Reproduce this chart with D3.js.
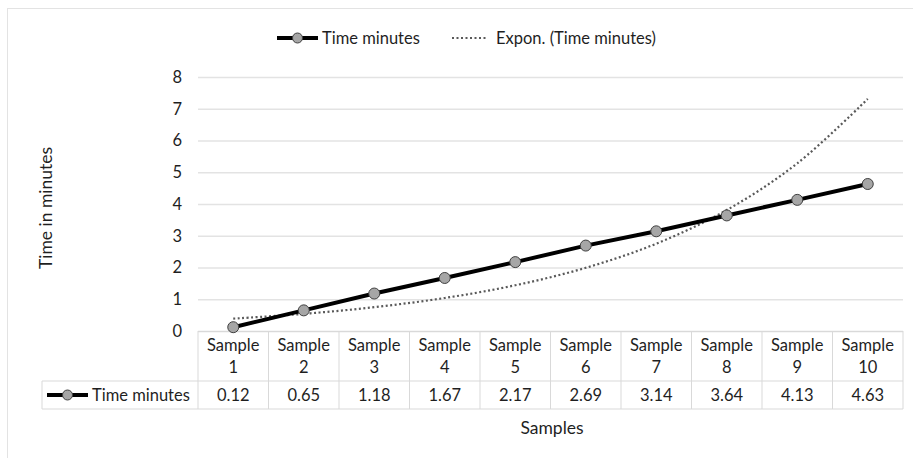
<!DOCTYPE html>
<html>
<head>
<meta charset="utf-8">
<script src="https://cdn.jsdelivr.net/npm/d3@7"></script>
<style>
  body { margin: 0; background: #fff; }
  text { font-family: Lato, "Noto Sans", sans-serif; fill: #1f1f1f; }
</style>
</head>
<body>
<div id="chart"></div>
<script>
// Time per sample - Excel style line chart with data table
const samples = ["Sample 1", "Sample 2", "Sample 3", "Sample 4", "Sample 5",
                 "Sample 6", "Sample 7", "Sample 8", "Sample 9", "Sample 10"];
const time_minutes = [0.12, 0.65, 1.18, 1.67, 2.17, 2.69, 3.14, 3.64, 4.13, 4.63];
// exponential trendline at each sample
const expon_trend = [0.39, 0.54, 0.75, 1.04, 1.44, 1.99, 2.75, 3.81, 5.28, 7.31];
const y_ticks = [0, 1, 2, 3, 4, 5, 6, 7, 8];

const w = 913;
const h = 458;
const plot = { left: 198, right: 903, top: 77, bottom: 331 };
const row_h = { head: 50, value: 28 };
const table_left = 42;
const font_size = 16.5;
const title_size = 17.5;

const svg = d3.select("#chart").append("svg")
    .attr("width", w)
    .attr("height", h);

// chart area border
svg.append("rect")
    .attr("x", 7.5).attr("y", 8.5)
    .attr("width", w + 10).attr("height", h + 10)
    .attr("fill", "none")
    .attr("stroke", "#e3e3e3");

const x = d3.scaleBand().domain(samples).range([plot.left, plot.right]);
const y = d3.scaleLinear().domain([0, 8]).range([plot.bottom, plot.top]);

// gridlines + tick labels
const y_axis = svg.append("g")
    .attr("transform", `translate(${plot.left},0)`)
    .call(d3.axisLeft(y).tickValues(y_ticks).tickSize(-(plot.right - plot.left)).tickPadding(16));
y_axis.select(".domain").remove();
y_axis.selectAll(".tick line")
    .attr("stroke", d => d === 0 ? "#d9d9d9" : "#e3e3e3")
    .attr("stroke-width", 1.3);
y_axis.selectAll(".tick text")
    .style("font-family", "Lato, 'Noto Sans', sans-serif")
    .style("font-size", font_size + "px")
    .attr("fill", "#333");

// data table
const table = svg.append("g");
const head_bottom = plot.bottom + row_h.head;
const value_bottom = head_bottom + row_h.value;
const grid_color = "#d9d9d9";

table.append("line")
    .attr("x1", table_left).attr("x2", plot.right)
    .attr("y1", head_bottom).attr("y2", head_bottom)
    .attr("stroke", grid_color);
table.append("line")
    .attr("x1", table_left).attr("x2", plot.right)
    .attr("y1", value_bottom).attr("y2", value_bottom)
    .attr("stroke", grid_color);
table.append("line")
    .attr("x1", table_left).attr("x2", table_left)
    .attr("y1", head_bottom).attr("y2", value_bottom)
    .attr("stroke", grid_color);

table.selectAll(".col-line")
    .data(samples.concat(["end"]))
    .join("line")
    .attr("class", "col-line")
    .attr("x1", d => d === "end" ? plot.right : x(d))
    .attr("x2", d => d === "end" ? plot.right : x(d))
    .attr("y1", plot.bottom).attr("y2", value_bottom)
    .attr("stroke", grid_color);

const head_text = table.selectAll(".head")
    .data(samples)
    .join("text")
    .attr("class", "head")
    .attr("text-anchor", "middle")
    .style("font-size", font_size + "px");
head_text.append("tspan")
    .attr("x", d => x(d) + x.bandwidth() / 2)
    .attr("y", plot.bottom + 20)
    .text(d => d.split(" ")[0]);
head_text.append("tspan")
    .attr("x", d => x(d) + x.bandwidth() / 2)
    .attr("y", plot.bottom + 42)
    .text(d => d.split(" ")[1]);

table.selectAll(".val")
    .data(time_minutes)
    .join("text")
    .attr("class", "val")
    .attr("x", (d, i) => x(samples[i]) + x.bandwidth() / 2)
    .attr("y", head_bottom + 20)
    .attr("text-anchor", "middle")
    .style("font-size", font_size + "px")
    .text(d => d.toFixed(2));

function line_key(g, x0, yy, len) {
    g.append("line")
        .attr("x1", x0).attr("x2", x0 + len)
        .attr("y1", yy).attr("y2", yy)
        .attr("stroke", "#000")
        .attr("stroke-width", 4);
    g.append("circle")
        .attr("cx", x0 + len / 2).attr("cy", yy)
        .attr("r", 5)
        .attr("fill", "#a6a6a6")
        .attr("stroke", "#404040")
        .attr("stroke-width", 1);
}

line_key(table, 47, head_bottom + 14, 41);
table.append("text")
    .attr("x", 92).attr("y", head_bottom + 20)
    .style("font-size", font_size + "px")
    .text("Time minutes");

// trendline
const cx = (d, i) => x(samples[i]) + x.bandwidth() / 2;
svg.append("path")
    .datum(expon_trend)
    .attr("d", d3.line().x(cx).y(d => y(d)).curve(d3.curveCatmullRom))
    .attr("fill", "none")
    .attr("stroke", "#595959")
    .attr("stroke-width", 2.2)
    .attr("stroke-dasharray", "2,2.5");

// series line
svg.append("path")
    .datum(time_minutes)
    .attr("d", d3.line().x(cx).y(d => y(d)))
    .attr("fill", "none")
    .attr("stroke", "#000")
    .attr("stroke-width", 4);

svg.selectAll(".dot")
    .data(time_minutes)
    .join("circle")
    .attr("class", "dot")
    .attr("cx", cx)
    .attr("cy", d => y(d))
    .attr("r", 5.5)
    .attr("fill", "#a6a6a6")
    .attr("stroke", "#404040")
    .attr("stroke-width", 1);

// legend
const legend = svg.append("g");
line_key(legend, 277, 38, 41);
legend.append("text")
    .attr("x", 322).attr("y", 44)
    .style("font-size", font_size + "px")
    .text("Time minutes");
legend.append("line")
    .attr("x1", 452).attr("x2", 488)
    .attr("y1", 38).attr("y2", 38)
    .attr("stroke", "#595959")
    .attr("stroke-width", 2.2)
    .attr("stroke-dasharray", "2,2.5");
legend.append("text")
    .attr("x", 496).attr("y", 44)
    .style("font-size", font_size + "px")
    .text("Expon. (Time minutes)");

// axis titles
svg.append("text")
    .attr("transform", "translate(52,208) rotate(-90)")
    .attr("text-anchor", "middle")
    .style("font-size", title_size + "px")
    .text("Time in minutes");

svg.append("text")
    .attr("x", 552).attr("y", 434)
    .attr("text-anchor", "middle")
    .style("font-size", title_size + "px")
    .text("Samples");
</script>
</body>
</html>
